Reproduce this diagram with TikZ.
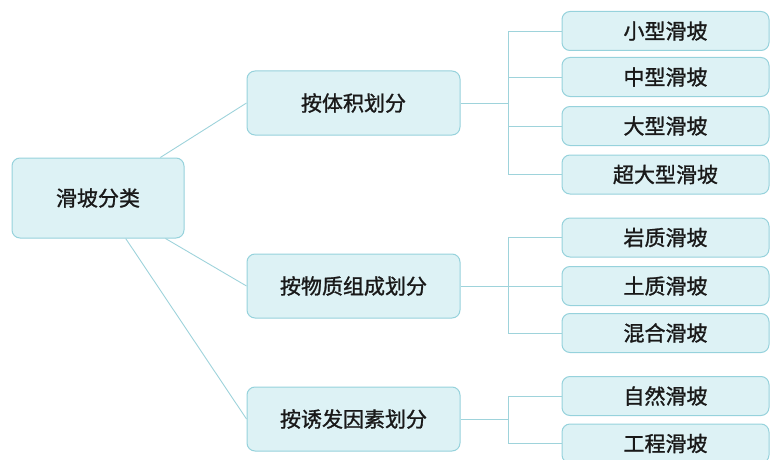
\documentclass[tikz,border=0pt]{standalone}
\usepackage{fontspec}
\setmainfont{Noto Sans CJK SC}[FakeBold=1.2]
\usetikzlibrary{calc}
\definecolor{boxfill}{HTML}{DDF2F5}
\definecolor{boxline}{HTML}{96D2DC}
\definecolor{conn}{HTML}{9ED3DB}
\tikzset{
  box/.style={draw=boxline, line width=1pt, fill=boxfill, rounded corners=8pt,
    inner sep=0pt, font=\fontsize{21}{24}\selectfont, text=black!90},
  rootbox/.style={box, minimum width=172pt, minimum height=80pt},
  midbox/.style={box, minimum width=213pt, minimum height=64pt},
  leafbox/.style={box, minimum width=207pt, minimum height=39pt},
  link/.style={draw=conn, line width=0.9pt},
}
\begin{document}
\begin{tikzpicture}[x=1pt,y=-1pt]
\useasboundingbox (0,0) rectangle (771,460);
\node[rootbox] (root) at (98,198) {滑坡分类};
\node[midbox] (m1) at (353.5,103) {按体积划分};
\node[midbox] (m2) at (353.5,286) {按物质组成划分};
\node[midbox] (m3) at (353.5,419) {按诱发因素划分};
\node[leafbox] (a1) at (665.5,31) {小型滑坡};
\node[leafbox] (a2) at (665.5,77) {中型滑坡};
\node[leafbox] (a3) at (665.5,126) {大型滑坡};
\node[leafbox] (a4) at (665.5,174.5) {超大型滑坡};
\node[leafbox] (b1) at (665.5,237.5) {岩质滑坡};
\node[leafbox] (b2) at (665.5,286) {土质滑坡};
\node[leafbox] (b3) at (665.5,333) {混合滑坡};
\node[leafbox] (c1) at (665.5,396) {自然滑坡};
\node[leafbox] (c2) at (665.5,443.5) {工程滑坡};
% root connectors
\path[link] ($(root.north west)!0.86!(root.north east)$) -- (m1.west);
\path[link] ($(root.south west)!0.89!(root.south east)$) -- (m2.west);
\path[link] ($(root.south west)!0.66!(root.south east)$) -- (m3.west);
% buses
\coordinate (x1) at (508,0);
\path[link] (m1.east) -- (m1.east -| x1);
\path[link] (a1.west) -- (a1.west -| x1) -- (a4.west -| x1) -- (a4.west);
\path[link] (a2.west) -- (a2.west -| x1);
\path[link] (a3.west) -- (a3.west -| x1);
\path[link] (m2.east) -- (b2.west);
\path[link] (b1.west) -- (b1.west -| x1) -- (b3.west -| x1) -- (b3.west);
\path[link] (m3.east) -- (m3.east -| x1);
\path[link] (c1.west) -- (c1.west -| x1) -- (c2.west -| x1) -- (c2.west);
\end{tikzpicture}
\end{document}
